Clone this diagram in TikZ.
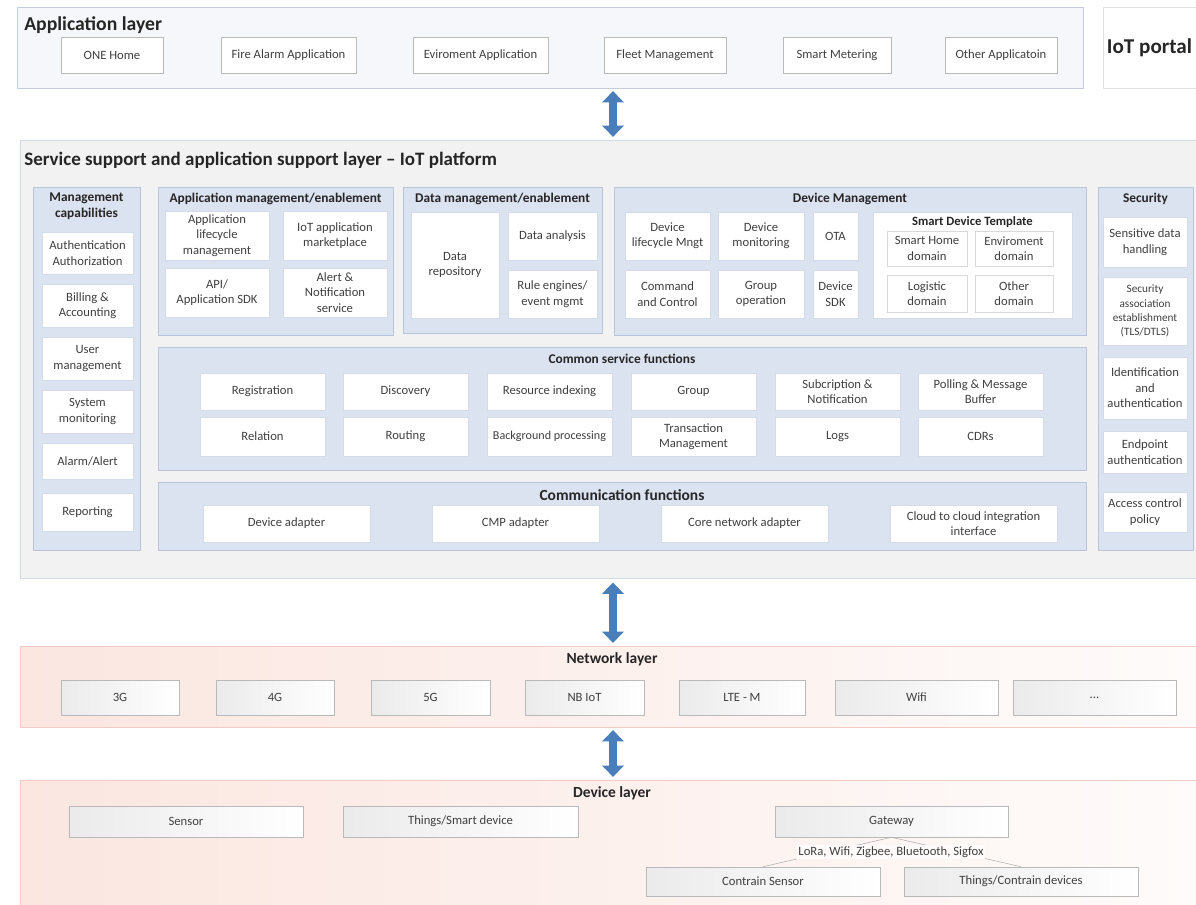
\documentclass[tikz,border=0pt]{standalone}
\usepackage[usenames,dvipsnames]{xcolor}
\usepackage{fontspec}
\setmainfont{Carlito}
\usepackage{tikz}
\usetikzlibrary{arrows.meta}

\definecolor{txt}{HTML}{404040}
\definecolor{arrowblue}{HTML}{4A7EBB}
\definecolor{panelfill}{HTML}{DCE3F0}
\definecolor{panelline}{HTML}{B8C4DA}
\definecolor{svcfill}{HTML}{F2F2F2}
\definecolor{svcline}{HTML}{D3DAE4}
\definecolor{appfill}{HTML}{F6F7FA}
\definecolor{appline}{HTML}{C5CDDB}
\definecolor{pinkleft}{HTML}{FBE6E0}
\definecolor{pinkright}{HTML}{FEFBFA}
\definecolor{pinkline}{HTML}{F3CBC6}

\tikzset{
   cell/.style n args={4}{at={({(#1+#3)/2},{(#2+#4)/2})},
      minimum width={(#3-#1)*0.025cm}, minimum height={(#4-#2)*0.025cm}},
   blk/.style={draw=panelline!60, fill=white, inner sep=0pt, align=center, text=txt,
      font=\fontsize{9}{11}\selectfont},
   appblk/.style={blk, draw=gray!55},
   domblk/.style={blk, draw=gray!30},
   netblk/.style={blk, draw=gray!55, left color=gray!16, right color=white},
   panel/.style={draw=panelline, fill=panelfill, inner sep=0pt},
   layer/.style={draw=pinkline, left color=pinkleft, right color=pinkright, inner sep=0pt},
   ttl/.style={font=\bfseries\fontsize{14}{16}\selectfont, text=black!85, inner sep=0pt},
   subttl/.style={font=\bfseries\fontsize{9.5}{11}\selectfont, text=black!85, inner sep=0pt, align=center},
   updown/.style={line width=5pt, draw=arrowblue,
      {Triangle[width=15pt,length=8pt]}-{Triangle[width=15pt,length=8pt]}}
}

\begin{document}
\begin{tikzpicture}[x=0.025cm,y=-0.025cm]
   \useasboundingbox (0,0) rectangle (1196,905);

   % application layer
   \node[cell={17}{7}{1083}{88}, draw=appline, fill=appfill, inner sep=0pt] (app) {};
   \node[ttl, anchor=west] (apptitle) at (24,25) {Application layer};
   \node[appblk, cell={61}{37}{163}{73}] (onehome) {ONE Home};
   \node[appblk, cell={221}{37}{356}{73}] (firealarm) {Fire Alarm Application};
   \node[appblk, cell={413}{37}{548}{73}] (enviroapp) {Eviroment Application};
   \node[appblk, cell={604}{37}{726}{73}] (fleet) {Fleet Management};
   \node[appblk, cell={783}{37}{891}{73}] (metering) {Smart Metering};
   \node[appblk, cell={945}{37}{1057}{73}] (otherapp) {Other Applicatoin};
   \node[cell={1103}{7}{1196}{88}, draw=gray!25, fill=white, inner sep=0pt, text=black!85,
      font=\bfseries\fontsize{15}{17}\selectfont] (portal) {IoT portal};

   % service support layer
   \node[cell={20}{140}{1196}{578}, draw=svcline, fill=svcfill, inner sep=0pt] (svc) {};
   \node[ttl, anchor=west, font=\bfseries\fontsize{13.5}{16}\selectfont] (svctitle) at (24,160)
      {Service support and application support layer – IoT platform};

   % management capabilities
   \node[panel, cell={33}{187}{140}{550}] (mgmt) {};
   \node[subttl] (mgmttitle) at (86.5,206) {Management\\capabilities};
   \node[blk, cell={42}{232}{133}{274}] (auth) {Authentication\\Authorization};
   \node[blk, cell={42}{284}{133}{327}] (billing) {Billing \&\\Accounting};
   \node[blk, cell={42}{337}{133}{380}] (usermgmt) {User\\management};
   \node[blk, cell={42}{390}{133}{433}] (sysmon) {System\\monitoring};
   \node[blk, cell={42}{443}{133}{479}] (alarm) {Alarm/Alert};
   \node[blk, cell={42}{493}{133}{531}] (report) {Reporting};

   % application management
   \node[panel, cell={158}{187}{393}{335}] (appmgmt) {};
   \node[subttl] (appmgmttitle) at (275.5,199) {Application management/enablement};
   \node[blk, cell={165}{211}{269}{260}] (lifecycle) {Application\\lifecycle\\management};
   \node[blk, cell={283}{211}{387}{260}] (market) {IoT application\\marketplace};
   \node[blk, cell={165}{268}{269}{317}] (api) {API/\\Application SDK};
   \node[blk, cell={283}{268}{387}{317}] (alert) {Alert \&\\Notification\\service};

   % data management
   \node[panel, cell={403}{187}{602}{333}] (datamgmt) {};
   \node[subttl] (datamgmttitle) at (502.5,199) {Data management/enablement};
   \node[blk, cell={411}{212}{499}{318}] (repo) {Data\\repository};
   \node[blk, cell={508}{212}{597}{260}] (analysis) {Data analysis};
   \node[blk, cell={508}{270}{597}{318}] (rules) {Rule engines/\\event mgmt};

   % device management
   \node[panel, cell={614}{187}{1086}{335}] (devmgmt) {};
   \node[subttl] (devmgmttitle) at (850,199) {Device Management};
   \node[blk, cell={625}{212}{710}{260}] (devlife) {Device\\lifecycle Mngt};
   \node[blk, cell={718}{212}{804}{260}] (devmon) {Device\\monitoring};
   \node[blk, cell={813}{212}{858}{260}] (ota) {OTA};
   \node[blk, cell={625}{270}{710}{318}] (cmdctrl) {Command\\and Control};
   \node[blk, cell={718}{270}{804}{318}] (grpop) {Group\\operation};
   \node[blk, cell={813}{270}{858}{318}] (devsdk) {Device\\SDK};
   \node[blk, cell={873}{212}{1072}{318}] (template) {};
   \node[subttl, font=\bfseries\fontsize{9}{11}\selectfont] (templatetitle) at (972.5,222) {Smart Device Template};
   \node[domblk, cell={887}{231}{967}{266}] (homedom) {Smart Home\\domain};
   \node[domblk, cell={975}{231}{1053}{266}] (envdom) {Enviroment\\domain};
   \node[domblk, cell={887}{275}{967}{312}] (logdom) {Logistic\\domain};
   \node[domblk, cell={975}{275}{1053}{312}] (otherdom) {Other\\domain};

   % security
   \node[panel, cell={1098}{187}{1193}{550}] (security) {};
   \node[subttl] (securitytitle) at (1145.5,199) {Security};
   \node[blk, cell={1103}{217}{1187}{267}] (sensitive) {Sensitive data\\handling};
   \node[blk, cell={1103}{277}{1187}{345}, font=\fontsize{8}{10}\selectfont] (secassoc)
      {Security\\association\\establishment\\(TLS/DTLS)};
   \node[blk, cell={1103}{357}{1187}{419}] (ident) {Identification\\and\\authentication};
   \node[blk, cell={1103}{431}{1187}{473}] (endpoint) {Endpoint\\authentication};
   \node[blk, cell={1103}{492}{1187}{532}] (access) {Access control\\policy};

   % common service functions
   \node[panel, cell={158}{347}{1086}{470}] (common) {};
   \node[subttl] (commontitle) at (622,359) {Common service functions};
   \node[blk, cell={200}{373}{325}{410}] (registration) {Registration};
   \node[blk, cell={343}{373}{468}{410}] (discovery) {Discovery};
   \node[blk, cell={487}{373}{612}{410}] (resindex) {Resource indexing};
   \node[blk, cell={631}{373}{756}{410}] (group) {Group};
   \node[blk, cell={775}{373}{900}{410}] (subscr) {Subcription \&\\Notification};
   \node[blk, cell={918}{373}{1043}{410}] (polling) {Polling \& Message\\Buffer};
   \node[blk, cell={200}{417}{325}{456}] (relation) {Relation};
   \node[blk, cell={343}{417}{468}{456}] (routing) {Routing};
   \node[blk, cell={487}{417}{612}{456}, font=\fontsize{8.6}{11}\selectfont] (backproc) {Background processing};
   \node[blk, cell={631}{417}{756}{456}] (transmgmt) {Transaction\\Management};
   \node[blk, cell={775}{417}{900}{456}] (logs) {Logs};
   \node[blk, cell={918}{417}{1043}{456}] (cdrs) {CDRs};

   % communication functions
   \node[panel, cell={158}{482}{1086}{550}] (comm) {};
   \node[subttl, font=\bfseries\fontsize{11}{13}\selectfont] (commtitle) at (622,495) {Communication functions};
   \node[blk, cell={203}{505}{370}{542}] (devadapt) {Device adapter};
   \node[blk, cell={432}{505}{599}{542}] (cmpadapt) {CMP adapter};
   \node[blk, cell={661}{505}{828}{542}] (coreadapt) {Core network adapter};
   \node[blk, cell={890}{505}{1057}{542}] (cloud) {Cloud to cloud integration\\interface};

   % network layer
   \node[layer, cell={20}{646}{1196}{727}] (net) {};
   \node[subttl, font=\bfseries\fontsize{11}{13}\selectfont] (nettitle) at (612,659) {Network layer};
   \node[netblk, cell={61}{680}{179}{715}] (g3) {3G};
   \node[netblk, cell={216}{680}{334}{715}] (g4) {4G};
   \node[netblk, cell={371}{680}{490}{715}] (g5) {5G};
   \node[netblk, cell={525}{680}{644}{715}] (nbiot) {NB IoT};
   \node[netblk, cell={679}{680}{805}{715}] (ltem) {LTE - M};
   \node[netblk, cell={835}{680}{998}{715}] (wifi) {Wifi};
   \node[netblk, cell={1013}{680}{1176}{715}] (othernet) {...};

   % device layer
   \node[layer, cell={20}{780}{1196}{905}] (dev) {};
   \node[subttl, font=\bfseries\fontsize{11}{13}\selectfont] (devtitle) at (612,793) {Device layer};
   \node[netblk, cell={69}{806}{303}{837}] (sensor) {Sensor};
   \node[netblk, cell={343}{806}{578}{837}] (things) {Things/Smart device};
   \node[netblk, cell={775}{806}{1008}{837}] (gateway) {Gateway};
   \node[netblk, cell={646}{867}{880}{896}] (csensor) {Contrain Sensor};
   \node[netblk, cell={904}{867}{1138}{896}] (cdevices) {Things/Contrain devices};

   \path[-, draw=gray!60] (gateway.south) edge (csensor.north);
   \path[-, draw=gray!60] (gateway.south) edge (cdevices.north);
   \node[fill=pinkright, inner sep=1pt, text=txt, font=\fontsize{9}{11}\selectfont] (links) at (891,852)
      {LoRa, Wifi, Zigbee, Bluetooth, Sigfox};

   % arrows between layers
   \coordinate (arrx) at (613,0);
   \draw[updown] ([yshift=-2pt]app.south -| arrx) -- ([yshift=2pt]svc.north -| arrx);
   \draw[updown] ([yshift=-3pt]svc.south -| arrx) -- ([yshift=2pt]net.north -| arrx);
   \draw[updown] ([yshift=-2pt]net.south -| arrx) -- ([yshift=2pt]dev.north -| arrx);
\end{tikzpicture}
\end{document}
